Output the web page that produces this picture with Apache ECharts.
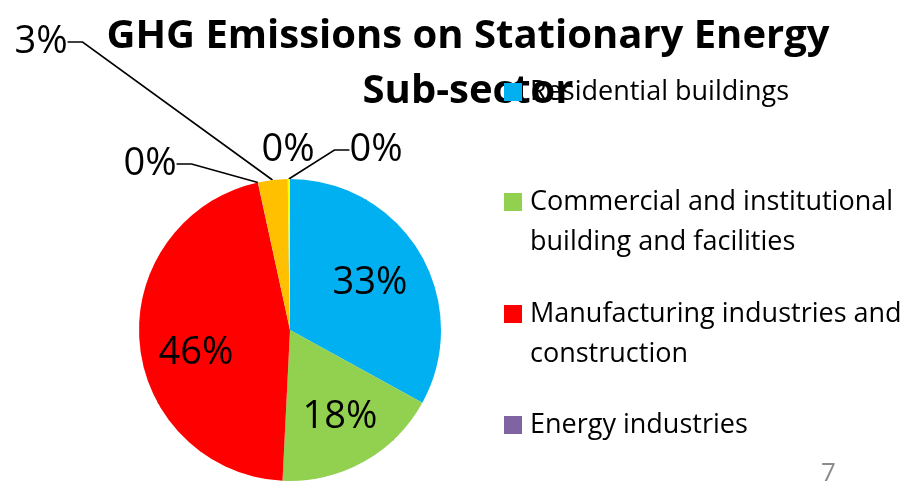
<!DOCTYPE html>
<html>
<head>
<meta charset="utf-8">
<script src="https://cdn.jsdelivr.net/npm/echarts@6/dist/echarts.min.js"></script>
<style>
  html, body { margin: 0; padding: 0; background: #fff; }
  #chart { width: 924px; height: 491px; }
</style>
</head>
<body>
<div id="chart"></div>
<script>
  // sub-sectors, clockwise from 12 o'clock
  var categories = [
    'Residential buildings',
    'Commercial and institutional\nbuilding and facilities',
    'Manufacturing industries and\nconstruction',
    'Energy industries',
    'Agriculture, forestry and fishing activities',
    'Non-specified sources',
    'Fugitive emissions'
  ];
  // share of emissions (%)
  var values = [33.0, 17.8, 45.8, 0.02, 3.1, 0.05, 0.25];
  var colors = ['#00B0F0', '#92D050', '#FF0000', '#8064A2', '#FFC000', '#4BACC6', '#FFFF00'];
  var legendCount = 4;   // only the first four fit in the legend box

  var FONT = '"Open Sans", Lato, sans-serif';

  // label centres (text placement only)
  var labelSpots = [
    [370, 283],
    [340, 417],
    [196, 353],
    [150, 164],
    [41, 42],
    [288, 150],
    [376, 150]
  ];

  var chart = echarts.init(document.getElementById('chart'));

  var pieData = categories.map(function (name, i) {
    var item = { name: name, value: values[i], itemStyle: { color: colors[i] } };
    if (i >= 3) {
      item.label = { position: 'outside' };
      item.labelLine = { show: i !== 5 };
    }
    return item;
  });

  // one legend box per entry so every icon lines up with the first text line
  var legendTops = [72, 142, 254, 405];
  var legends = legendTops.slice(0, legendCount).map(function (top, i) {
    return {
      data: [categories[i]],
      orient: 'vertical',
      left: 504,
      top: top,
      padding: 0,
      z: 10,
      selectedMode: false,
      icon: 'rect',
      itemWidth: 18,
      itemHeight: 18,
      formatter: function (name) {
        // leading blank line keeps the icon level with the first line
        return name.indexOf('\n') >= 0 ? '\n' + name : name;
      },
      textStyle: {
        fontFamily: FONT,
        fontSize: 27,
        color: '#000',
        lineHeight: 40,
        padding: [0, 0, 0, 3]
      }
    };
  });

  var option = {
    animation: false,
    title: {
      text: 'GHG Emissions on Stationary Energy\nSub-sector',
      left: 463,
      textAlign: 'center',
      top: 4,
      z: 1,
      textStyle: {
        fontFamily: FONT,
        fontSize: 40,
        fontWeight: 'bold',
        color: '#000',
        lineHeight: 55
      }
    },
    legend: legends,
    graphic: [{
      type: 'text',
      left: 821,
      top: 461,
      style: { text: '7', fontFamily: FONT, fontSize: 26, fill: '#8C8C8C' }
    }],
    series: [{
      type: 'pie',
      center: [290, 330],
      radius: 151,
      startAngle: 90,
      clockwise: true,
      avoidLabelOverlap: false,
      data: pieData,
      label: {
        position: 'inside',
        fontFamily: FONT,
        fontSize: 38,
        color: '#000',
        formatter: function (p) { return Math.round(p.percent) + '%'; }
      },
      labelLine: {
        show: true,
        length: 20,
        length2: 15,
        lineStyle: { color: '#000', width: 1.6 }
      },
      labelLayout: function (params) {
        var spot = labelSpots[params.dataIndex];
        return { x: spot[0], y: spot[1], align: 'center', verticalAlign: 'middle' };
      }
    }]
  };

  chart.setOption(option);
</script>
</body>
</html>
